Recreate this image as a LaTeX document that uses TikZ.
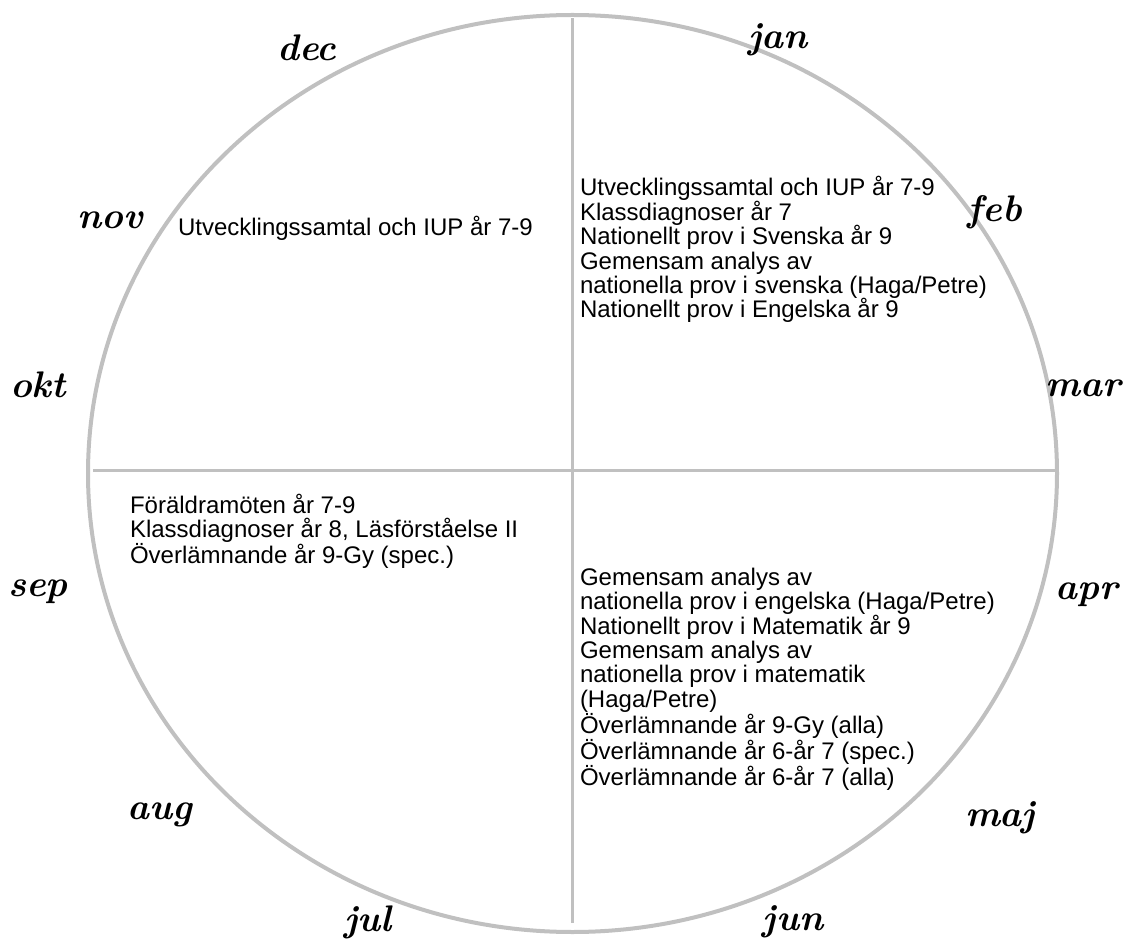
\documentclass[tikz,border=0pt]{standalone}
\usepackage{fontspec}
\setsansfont{Liberation Sans}
\usetikzlibrary{
  positioning,
}
\definecolor{rimgray}{RGB}{192,192,192}
\tikzset{
  x = 1pt,
  y = -1pt,
  wheel/.style={draw=rimgray, line width=4pt},
  axis/.style={draw=rimgray, line width=2.5pt},
  month/.style={
    inner sep=0pt, outer sep=0pt,
    font=\fontsize{37}{37}\selectfont\bfseries\itshape,
  },
  notes/.style={
    anchor=north west, align=left, inner sep=0pt, outer sep=0pt,
    font=\fontsize{24}{24.4}\selectfont\sffamily,
  },
}

\begin{document}
\begin{tikzpicture}
  \useasboundingbox (0,0) rectangle (1125,949);
  \draw[wheel] (572.5,473.5) ellipse [x radius=484.5, y radius=458.5];
  \coordinate (N) at (572.7,18);
  \coordinate (S) at (572.7,923);
  \coordinate (W) at (93,470.7);
  \coordinate (E) at (1055,470.7);
  \draw[axis] (N) -- (S);
  \draw[axis] (W) -- (E);
  %% months
  \node[month](jan) at (778,40) {jan};
  \node[month](feb) at (995,212) {feb};
  \node[month](mar) at (1083,388) {mar};
  \node[month](apr) at (1087,595) {apr};
  \node[month](maj) at (1000,818) {maj};
  \node[month](jun) at (793,922) {jun};
  \node[month](jul) at (368,922) {jul};
  \node[month](aug) at (160,815) {aug};
  \node[month](sep) at (38,592) {sep};
  \node[month](okt) at (38,385) {okt};
  \node[month](nov) at (110,220) {nov};
  \node[month](dec) at (307,48) {dec};
  %% activities
  \node[notes](hoest) at (178,216.5) {Utvecklingssamtal och IUP år 7-9};
  \node[notes](vinter) at (580,176.5) {Utvecklingssamtal och IUP år 7-9\\
    Klassdiagnoser år 7\\
    Nationellt prov i Svenska år 9\\
    Gemensam analys av\\
    nationella prov i svenska (Haga/Petre)\\
    Nationellt prov i Engelska år 9};
  \node[notes](sommar) at (130,494) {Föräldramöten år 7-9\\
    Klassdiagnoser år 8, Läsförståelse II\\
    Överlämnande år 9-Gy (spec.)};
  \node[notes](vaar) at (580,568) {Gemensam analys av\\
    nationella prov i engelska (Haga/Petre)\\
    Nationellt prov i Matematik år 9\\
    Gemensam analys av\\
    nationella prov i matematik\\
    (Haga/Petre)\\
    Överlämnande år 9-Gy (alla)\\
    Överlämnande år 6-år 7 (spec.)\\
    Överlämnande år 6-år 7 (alla)};
\end{tikzpicture}
\end{document}
